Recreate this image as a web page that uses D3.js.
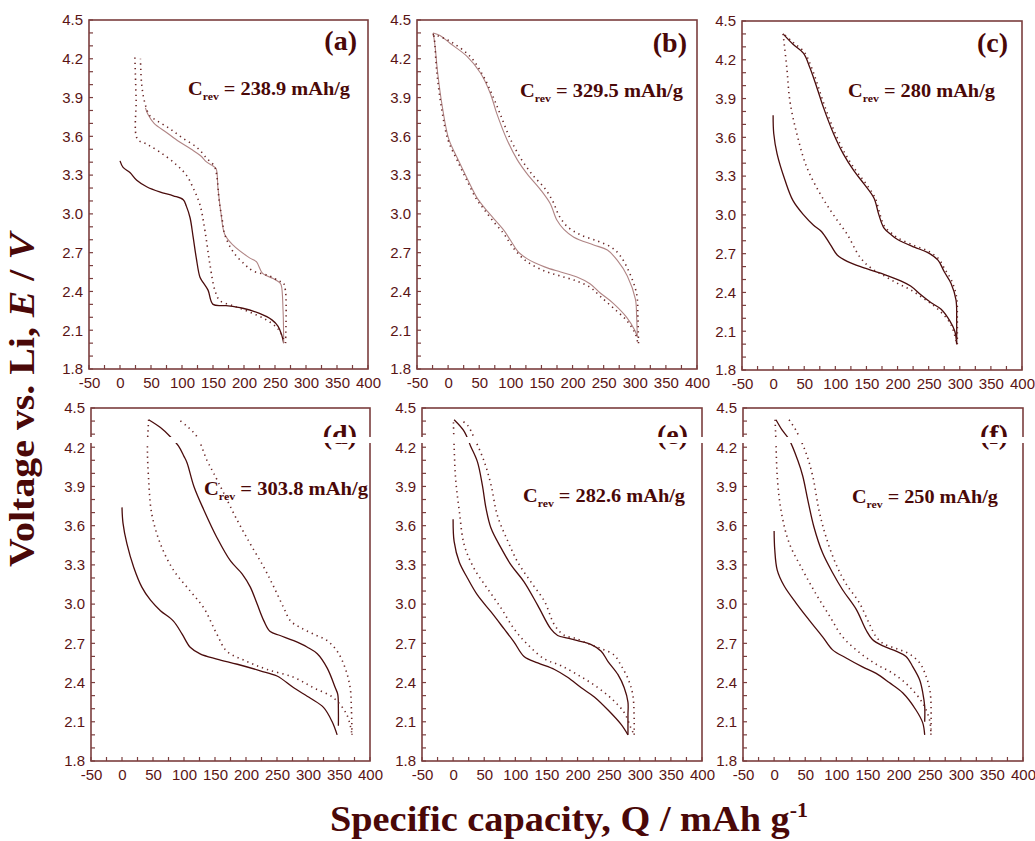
<!DOCTYPE html>
<html><head><meta charset="utf-8">
<script src="https://cdn.jsdelivr.net/npm/d3@7"></script>
<style>body{margin:0;background:#fff}svg{display:block}</style>
</head><body>
<script>
// ---------- data ----------
const xTicks = [-50,0,50,100,150,200,250,300,350,400];
const yTicks = [1.8,2.1,2.4,2.7,3.0,3.3,3.6,3.9,4.2,4.5];
const panelLabels = ["(a)","(b)","(c)","(d)","(e)","(f)"];
const crevValues = ["238.9","329.5","280","303.8","282.6","250"];

const aSolidDis = [[0,3.41],[5,3.36],[16,3.32],[27,3.26],[43,3.21],[64,3.17],[86,3.14],[102,3.11],[107,3.06],[113,2.97],[118,2.82],[123,2.66],[129,2.51],[134,2.47],[142,2.41],[150,2.30],[171,2.29],[198,2.27],[225,2.23],[245,2.18],[255,2.13],[261,2.06],[264,2.0]];
const aSolidChg = [[264,2.0],[263,2.25],[260,2.45],[257,2.47],[247,2.5],[230,2.54],[220,2.63],[209,2.66],[182,2.76],[169,2.84],[163,3.0],[158,3.2],[155,3.35],[150,3.37],[140,3.4],[130,3.45],[115,3.5],[95,3.56],[75,3.63],[55,3.70],[45,3.77],[41,3.82]];
const aDotDis = [[24,4.21],[26,3.89],[28,3.58],[43,3.54],[64,3.48],[91,3.38],[107,3.30],[118,3.20],[129,3.07],[137,2.87],[145,2.61],[153,2.41],[161,2.33],[182,2.29],[209,2.24],[236,2.18],[255,2.11],[265,2.02]];
const aDotChg = [[267,2.0],[267,2.4],[263,2.47],[257,2.48],[241,2.52],[214,2.56],[201,2.61],[182,2.71],[169,2.84],[165,2.95],[160,3.1],[156,3.3],[152,3.37],[140,3.43],[125,3.51],[100,3.59],[80,3.66],[60,3.72],[48,3.76],[40,3.86],[35,4.0],[33,4.2]];

const bSolidDis = [[-24,4.40],[-21,4.3],[-17,4.1],[-9,3.82],[1,3.58],[15,3.43],[31,3.27],[47,3.12],[58,3.05],[74,2.96],[90,2.87],[101,2.79],[112,2.71],[128,2.65],[155,2.59],[181,2.55],[208,2.51],[228,2.46],[244,2.39],[265,2.31],[287,2.2],[300,2.1],[304,2.05]];
const bSolidChg = [[304,2.05],[303,2.2],[301,2.34],[288,2.52],[272,2.64],[256,2.72],[234,2.76],[202,2.82],[186,2.88],[175,2.95],[164,3.08],[148,3.19],[127,3.31],[111,3.42],[95,3.57],[78,3.78],[68,3.93],[52,4.09],[30,4.22],[3,4.32],[-13,4.38],[-24,4.40]];
const bDotDis = [[-23,4.38],[-22,4.35],[-18,4.09],[-10,3.80],[0,3.57],[14,3.42],[30,3.26],[46,3.11],[57,3.04],[73,2.94],[89,2.85],[100,2.77],[111,2.70],[127,2.63],[154,2.56],[180,2.52],[207,2.48],[229,2.43],[245,2.36],[266,2.27],[288,2.17],[301,2.07],[305,2.0]];
const bDotChg = [[306,2.0],[305,2.2],[303,2.38],[291,2.55],[276,2.68],[263,2.74],[240,2.79],[212,2.84],[192,2.9],[179,2.98],[168,3.1],[155,3.2],[136,3.3],[118,3.42],[100,3.58],[83,3.78],[71,3.92],[55,4.08],[35,4.22],[5,4.33],[-18,4.38],[-26,4.39]];

const cSolidDis = [[0,3.77],[1,3.63],[6.5,3.47],[19,3.27],[32,3.11],[49,3.0],[65,2.92],[78,2.87],[92,2.77],[103,2.69],[119,2.64],[146,2.59],[178,2.54],[205,2.49],[221,2.45],[238,2.38],[254,2.32],[270,2.27],[284,2.18],[292,2.1],[295,2.0]];
const cSolidChg = [[295,2.0],[295,2.18],[294,2.34],[286,2.47],[275,2.56],[265,2.65],[248,2.71],[227,2.75],[200,2.81],[189,2.85],[178,2.9],[170,3.0],[162,3.13],[146,3.24],[130,3.34],[113,3.47],[97,3.63],[81,3.83],[70,3.99],[59,4.14],[49,4.25],[32,4.32],[16,4.40]];
const cDotDis = [[16,4.4],[22,4.14],[27,3.88],[38,3.63],[54,3.37],[76,3.16],[97,3.0],[119,2.85],[140,2.67],[157,2.59],[178,2.53],[200,2.47],[221,2.42],[243,2.35],[265,2.27],[286,2.15],[295,2.0]];
const cDotChg = [[296,2.0],[296,2.2],[295,2.36],[287,2.49],[276,2.58],[266,2.66],[249,2.72],[228,2.76],[201,2.82],[190,2.86],[179,2.91],[172,3.0],[164,3.13],[148,3.25],[132,3.35],[115,3.48],[99,3.64],[83,3.84],[72,4.0],[61,4.15],[50,4.26],[33,4.33],[17,4.40]];

const dSolidDis = [[0,3.74],[1.6,3.62],[8,3.46],[19,3.28],[32,3.13],[46,3.03],[62,2.95],[83,2.87],[97,2.77],[110,2.67],[126,2.62],[153,2.58],[186,2.54],[223,2.49],[250,2.45],[277,2.36],[304,2.28],[325,2.21],[339,2.10],[347,2.0]];
const dSolidChg = [[349,2.07],[349,2.2],[348,2.31],[344,2.36],[331,2.51],[315,2.62],[299,2.67],[277,2.72],[255,2.76],[239,2.79],[229,2.87],[218,3.0],[207,3.13],[194,3.23],[175,3.33],[153,3.51],[132,3.72],[116,3.90],[105,4.08],[100,4.13],[91,4.21],[78,4.28],[62,4.35],[43,4.41]];
const dDotDis = [[43,4.41],[41,4.2],[43,3.95],[48,3.69],[62,3.46],[83,3.26],[110,3.10],[132,2.97],[153,2.77],[169,2.64],[202,2.56],[234,2.50],[277,2.44],[309,2.36],[342,2.28],[363,2.15],[371,2.0]];
const dDotChg = [[371,2.0],[370,2.2],[368,2.36],[360,2.51],[347,2.64],[331,2.72],[309,2.77],[288,2.82],[272,2.87],[261,2.97],[245,3.13],[229,3.28],[207,3.46],[186,3.64],[164,3.85],[148,4.0],[137,4.1],[121,4.28],[105,4.36],[89,4.42]];

const eSolidDis = [[0,3.65],[1.6,3.48],[10,3.32],[23,3.20],[39,3.07],[61,2.94],[82,2.81],[98,2.71],[114,2.60],[136,2.55],[163,2.50],[184,2.44],[206,2.36],[227,2.29],[249,2.19],[270,2.08],[281,2.0]];
const eSolidChg = [[281,2.0],[281,2.15],[281,2.25],[275,2.36],[265,2.46],[249,2.56],[238,2.64],[222,2.69],[200,2.72],[184,2.74],[168,2.76],[157,2.81],[136,2.99],[114,3.17],[93,3.30],[77,3.43],[61,3.58],[53,3.73],[47,3.91],[39,4.09],[28,4.21],[18,4.32],[1.6,4.41]];
const eDotDis = [[0.5,4.39],[1.6,4.21],[4,3.96],[10,3.71],[18,3.45],[34,3.27],[55,3.12],[77,2.97],[98,2.81],[120,2.69],[147,2.58],[173,2.53],[200,2.46],[227,2.38],[254,2.28],[275,2.17],[286,2.05],[291,2.0]];
const eDotChg = [[291,2.0],[289,2.3],[281,2.43],[270,2.53],[259,2.61],[238,2.66],[216,2.70],[195,2.74],[179,2.76],[163,2.84],[147,3.02],[125,3.17],[104,3.32],[88,3.48],[71,3.68],[61,3.91],[50,4.09],[34,4.27],[23,4.37],[15,4.40]];

const fSolidDis = [[0,3.56],[1,3.42],[5,3.26],[16,3.14],[35,3.01],[56,2.88],[78,2.75],[94,2.65],[115,2.59],[142,2.52],[164,2.47],[185,2.40],[207,2.32],[228,2.19],[239,2.09],[242,2.0]];
const fSolidChg = [[242,2.1],[242,2.22],[239,2.32],[234,2.42],[223,2.52],[212,2.6],[196,2.64],[175,2.68],[158,2.73],[148,2.80],[132,2.96],[110,3.11],[94,3.24],[78,3.39],[64,3.59],[54,3.80],[46,3.98],[38,4.10],[24,4.26],[13,4.33],[3,4.41]];
const fDotDis = [[1.6,4.41],[3,4.23],[5,3.98],[11,3.72],[24,3.47],[46,3.26],[67,3.08],[89,2.91],[110,2.75],[137,2.63],[164,2.54],[191,2.47],[217,2.37],[239,2.24],[250,2.11],[252,2.0]];
const fDotChg = [[252,2.0],[251,2.32],[244,2.45],[234,2.55],[217,2.62],[196,2.66],[175,2.70],[164,2.75],[153,2.85],[137,3.01],[115,3.16],[99,3.31],[83,3.52],[72,3.72],[62,3.98],[51,4.16],[35,4.33],[24,4.41]];

// ---------- layout & style ----------
const W = 1035, H = 841;
const FRAME = "#7b3e3e", TXT = "#5a1414", TITLE = "#4a0808";
const DARK = "#4a0c0c", LIGHT = "#b08585", DOT = "#6a2626";

const panels = [
  {x0:89, x1:368, y0:20, y1:369, lx:357, ly:50, cx:188, cy:95, cw:162,
   series:[[aSolidDis,"dark"],[aSolidChg,"light"],[aDotDis,"dot"],[aDotChg,"dot"]]},
  {x0:417, x1:697, y0:20, y1:369, lx:687, ly:52, cx:520, cy:97, cw:163,
   series:[[bSolidDis,"light"],[bSolidChg,"light"],[bDotDis,"dot"],[bDotChg,"dot"]]},
  {x0:742, x1:1022, y0:21, y1:370, lx:1008, ly:52, cx:848, cy:97, cw:147,
   series:[[cSolidDis,"dark"],[cSolidChg,"dark"],[cDotDis,"dot"],[cDotChg,"dot"]]},
  {x0:91, x1:370, y0:408, y1:761, lx:357, ly:444, cx:204, cy:495, cw:164,
   series:[[dSolidDis,"dark"],[dSolidChg,"dark"],[dDotDis,"dot"],[dDotChg,"dot"]]},
  {x0:422, x1:702, y0:408, y1:761, lx:688, ly:444, cx:523, cy:502, cw:162,
   series:[[eSolidDis,"dark"],[eSolidChg,"dark"],[eDotDis,"dot"],[eDotChg,"dot"]]},
  {x0:743, x1:1023, y0:408, y1:761, lx:1008, ly:444, cx:852, cy:503, cw:146,
   series:[[fSolidDis,"dark"],[fSolidChg,"dark"],[fDotDis,"dot"],[fDotChg,"dot"]]}
];

const svg = d3.select("body").append("svg").attr("width", W).attr("height", H)
  .style("font-family","'Liberation Sans', Arial, sans-serif");
svg.append("rect").attr("width",W).attr("height",H).attr("fill","#fff");

panels.forEach((p, i) => {
  const x = d3.scaleLinear().domain([-50,400]).range([p.x0, p.x1]);
  const y = d3.scaleLinear().domain([1.8,4.5]).range([p.y1, p.y0]);
  const g = svg.append("g");

  // minor ticks
  const xMinor = d3.range(-50, 401, 25);
  const yMinor = d3.range(18, 46, 1).map(v => v/10);
  g.selectAll(".xm").data(xMinor).join("line")
    .attr("x1", d => x(d)).attr("x2", d => x(d))
    .attr("y1", p.y1).attr("y2", p.y1 - 4)
    .attr("stroke", FRAME).attr("stroke-width", 1.2);
  g.selectAll(".ym").data(yMinor).join("line")
    .attr("x1", p.x0).attr("x2", p.x0 + 4)
    .attr("y1", d => y(d)).attr("y2", d => y(d))
    .attr("stroke", FRAME).attr("stroke-width", 1.2);

  // axes (labels only, through d3 axes)
  const xAxis = d3.axisBottom(x).tickValues(xTicks).tickSize(0).tickPadding(8)
    .tickFormat(d => String(d));
  const gx = g.append("g").attr("transform", `translate(0,${p.y1})`).call(xAxis);
  gx.select(".domain").remove();
  gx.selectAll("text").attr("fill", TXT).style("font-size","15px")
    .style("font-family","'Liberation Sans', Arial, sans-serif");

  const yAxis = d3.axisLeft(y).tickValues(yTicks).tickSize(0).tickPadding(6)
    .tickFormat(d3.format(".1f"));
  const gy = g.append("g").attr("transform", `translate(${p.x0},0)`).call(yAxis);
  gy.select(".domain").remove();
  gy.selectAll("text").attr("fill", TXT).style("font-size","15px")
    .style("font-family","'Liberation Sans', Arial, sans-serif");

  // frame
  g.append("rect").attr("x", p.x0).attr("y", p.y0)
    .attr("width", p.x1 - p.x0).attr("height", p.y1 - p.y0)
    .attr("fill","none").attr("stroke", FRAME).attr("stroke-width", 1.6);

  // curves
  const line = d3.line().x(d => x(d[0])).y(d => y(d[1]))
    .curve(d3.curveCatmullRom.alpha(0.5));
  p.series.forEach(([data, kind]) => {
    const path = g.append("path").attr("d", line(data)).attr("fill","none");
    if (kind === "dark") path.attr("stroke", DARK).attr("stroke-width", 1.3);
    else if (kind === "light") path.attr("stroke", LIGHT).attr("stroke-width", 1.1);
    else path.attr("stroke", DOT).attr("stroke-width", 1.6)
      .attr("stroke-dasharray","1.3,4").attr("stroke-linecap","butt");
  });

  // panel label
  g.append("text").attr("x", p.lx).attr("y", p.ly).attr("text-anchor","end")
    .attr("fill", TITLE).style("font-family","'Liberation Serif', 'Times New Roman', serif")
    .style("font-weight","bold").style("font-size","28px").text(panelLabels[i]);

  // C_rev annotation
  const t = g.append("text").attr("x", p.cx).attr("y", p.cy).attr("fill", TITLE)
    .style("font-family","'Liberation Serif', 'Times New Roman', serif")
    .style("font-weight","bold").style("font-size","19px")
    .attr("textLength", p.cw).attr("lengthAdjust","spacingAndGlyphs");
  t.append("tspan").text("C");
  t.append("tspan").attr("dy", 5).style("font-size","11px").text("rev");
  t.append("tspan").attr("dy", -5).text(" = " + crevValues[i] + " mAh/g");
});

// white scan band across the lower row
svg.append("rect").attr("x", 60).attr("y", 437).attr("width", 970).attr("height", 6).attr("fill","#fff");

// axis titles
const yt = svg.append("text").attr("transform","translate(34,400) rotate(-90)")
  .attr("text-anchor","middle").attr("fill", TITLE)
  .style("font-family","'Liberation Serif', 'Times New Roman', serif")
  .style("font-weight","bold").style("font-size","35px")
  .attr("textLength", 334).attr("lengthAdjust","spacingAndGlyphs");
yt.append("tspan").text("Voltage vs. Li, ");
yt.append("tspan").style("font-style","italic").text("E");
yt.append("tspan").text(" / ");
yt.append("tspan").style("font-style","italic").text("V");

const xt = svg.append("text").attr("x", 330).attr("y", 831).attr("fill", TITLE)
  .style("font-family","'Liberation Serif', 'Times New Roman', serif")
  .style("font-weight","bold").style("font-size","35px")
  .attr("textLength", 478).attr("lengthAdjust","spacingAndGlyphs");
xt.append("tspan").text("Specific capacity, Q / mAh g");
xt.append("tspan").attr("dy",-14).style("font-size","20px").text("-1");
</script>
</body></html>
